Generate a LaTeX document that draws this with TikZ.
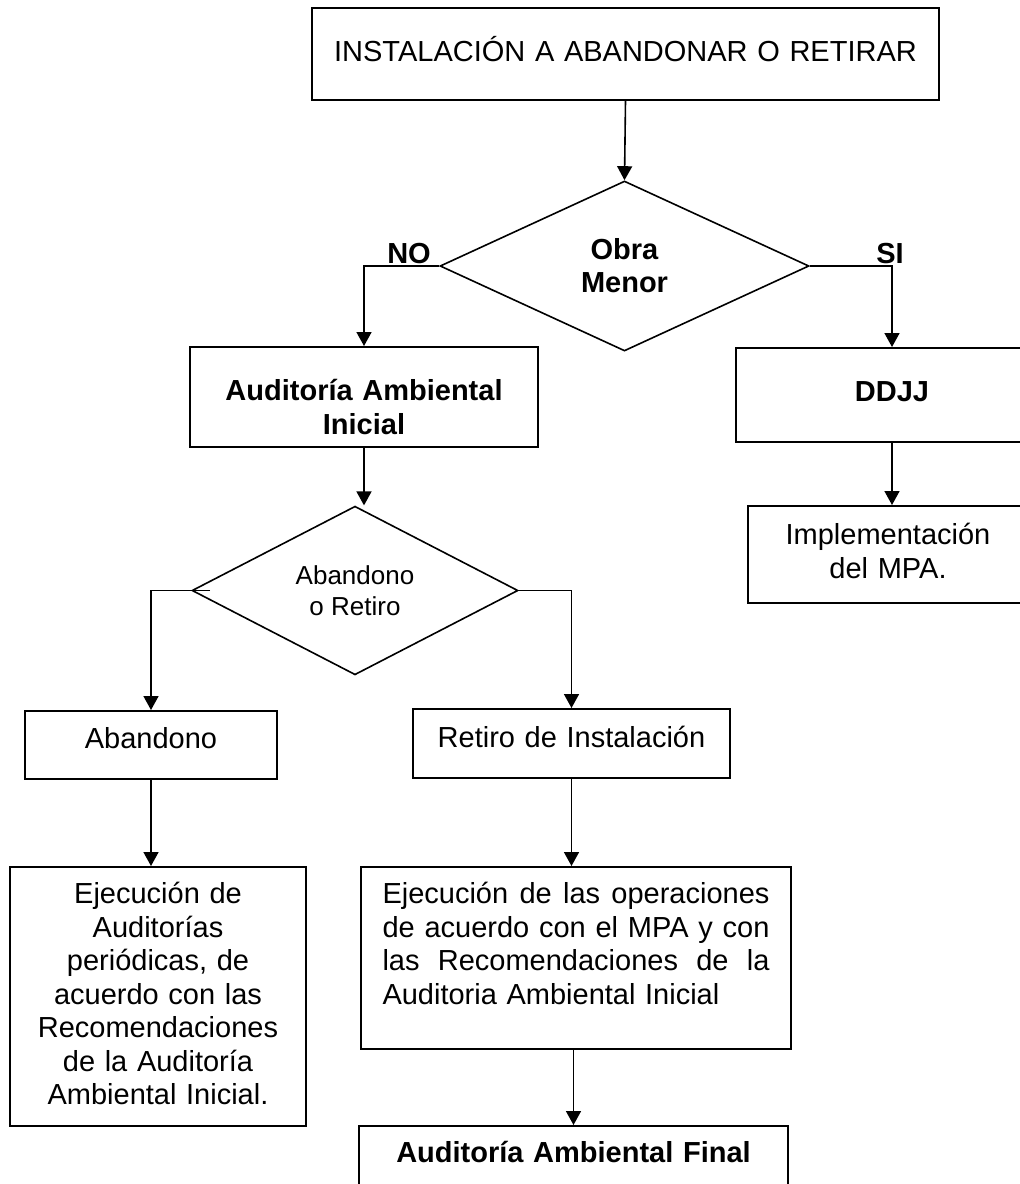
\documentclass[tikz,border=0pt]{standalone}
\usepackage{fontspec}
\setmainfont{Liberation Sans}
\usetikzlibrary{arrows.meta}
\usetikzlibrary{shapes.geometric}
\tikzset{flow/.style = {-{Triangle[length=7pt, width=7.5pt]}},
         box/.style = {draw, rectangle, anchor=north, inner sep=0pt, align=center,
                       font=\fontsize{14.5pt}{16.75pt}\selectfont},
         boldbox/.style = {box, font=\fontsize{14.5pt}{16.75pt}\selectfont\bfseries},
         decision/.style = {draw, diamond, inner sep=0pt, align=center}}
\newcommand{\jline}[1]{\makebox[\linewidth][s]{\spaceskip=0.28em plus 1fil\relax #1}}

\begin{document}
\begin{tikzpicture}[x=0.5pt, y=-0.5pt, line width=0.8pt]
    \useasboundingbox [fill=white] (0, 0) rectangle (1020, 1184);

    \node [box, minimum width=313.5pt, text width=300pt, text height=27pt, text depth=19pt] (top) at (625.5, 7) {INSTALACIÓN A ABANDONAR O RETIRAR};
    \node [decision, minimum width=184.5pt, minimum height=85pt, font=\fontsize{14.5pt}{16.5pt}\selectfont\bfseries] (d1) at (624.5, 266) {Obra\\Menor};
    \node [anchor=base, font=\fontsize{14.5pt}{16.75pt}\selectfont\bfseries] (lblno) at (409, 263) {NO};
    \node [anchor=base, font=\fontsize{14.5pt}{16.75pt}\selectfont\bfseries] (lblsi) at (890, 263) {SI};

    \node [boldbox, minimum width=174pt, text width=170pt, text height=27pt, text depth=23pt] (aai) at (364, 346) {Auditoría Ambiental\\Inicial};
    \node [boldbox, minimum width=156pt, text width=140pt, text height=27pt, text depth=20pt] (ddjj) at (892, 347) {DDJJ};
    \node [box, minimum width=140pt, text width=130pt, text height=19.5pt, text depth=29pt] (impl) at (888, 505) {Implementación\\del MPA.};

    \node [decision, minimum width=163pt, minimum height=79.5pt, font=\fontsize{13pt}{15.5pt}\selectfont] (d2) at (355, 590.5) {Abandono\\o Retiro};

    \node [box, minimum width=126pt, text width=120pt, text height=19pt, text depth=15pt] (aban) at (151, 710) {Abandono};
    \node [box, minimum width=158.5pt, text width=150pt, text height=19.5pt, text depth=15pt] (retiro) at (571.5, 708) {Retiro de Instalación};

    \node [box, minimum width=148pt, text width=140pt, text height=18.5pt, text depth=111pt] (ejec) at (158, 866) {Ejecución de\\Auditorías\\periódicas, de\\acuerdo con las\\Recomendaciones\\de la Auditoría\\Ambiental Inicial.};
    \node [box, align=left, minimum width=215pt, text width=193.5pt, text height=18.5pt, text depth=72.5pt] (ops) at (576, 866) {\jline{Ejecución de las operaciones}\\\jline{de acuerdo con el MPA y con}\\\jline{las Recomendaciones de la}\\Auditoria Ambiental Inicial};
    \node [boldbox, minimum width=214.5pt, text width=200pt, text height=18.5pt, text depth=19pt] (final) at (573.5, 1125) {Auditoría Ambiental Final};

    \draw [flow] (top.south) -- (d1.north);
    \draw [flow] (d1.west) -| (aai.north);
    \draw [flow] (d1.east) -| (ddjj.north);
    \draw [flow] (aai.south) -- (aai.south |- d2.north);
    \draw [flow] (ddjj.south) -- (ddjj.south |- impl.north);
    \draw [flow] ([xshift=9.5pt]d2.west) -| (aban.north);
    \draw [flow] (d2.east) -| (retiro.north);
    \draw [flow] (aban.south) -- (aban.south |- ejec.north);
    \draw [flow] (retiro.south) -- (retiro.south |- ops.north);
    \draw [flow] (ops.south -| final.north) -- (final.north);
  \end{tikzpicture}
\end{document}
